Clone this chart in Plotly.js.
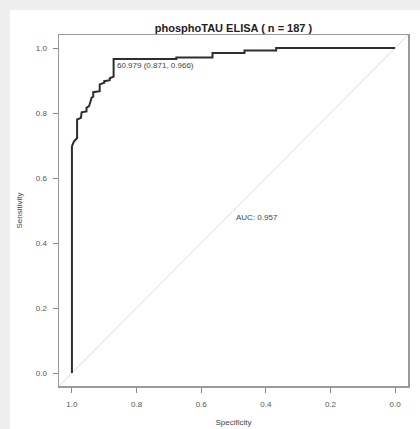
<!DOCTYPE html>
<html>
<head>
<meta charset="utf-8">
<script src="https://cdn.plot.ly/plotly-3.0.1.min.js"></script>
<style>
html,body{margin:0;padding:0;background:#eeeeee;width:420px;height:429px;overflow:hidden;}
#chart{position:absolute;left:10px;top:10px;width:410px;height:419px;background:#fff;}
</style>
</head>
<body>
<div id="chart"></div>
<script>
// ROC curve vertices
const specificity = [1.000, 1.000, 0.994, 0.984, 0.984, 0.972, 0.970, 0.955, 0.955, 0.947, 0.939, 0.934, 0.934, 0.914, 0.914, 0.900, 0.900, 0.883, 0.883, 0.871, 0.871, 0.677, 0.677, 0.565, 0.565, 0.466, 0.466, 0.368, 0.368, 0.000];
const sensitivity = [0.000, 0.697, 0.712, 0.723, 0.780, 0.785, 0.802, 0.805, 0.816, 0.821, 0.847, 0.850, 0.864, 0.867, 0.888, 0.893, 0.898, 0.901, 0.907, 0.912, 0.966, 0.966, 0.971, 0.971, 0.985, 0.985, 0.992, 0.992, 1.000, 1.000];
// chance diagonal
const diagX = [1.04, -0.04];
const diagY = [-0.04, 1.04];
const tickVals = [0, 0.2, 0.4, 0.6, 0.8, 1.0];
const tickText = ["0.0", "0.2", "0.4", "0.6", "0.8", "1.0"];
const titleText = "phosphoTAU ELISA ( n = 187 )";
const aucText = "AUC: 0.957";
const aucPos = [0.5, 0.5];
const thresText = "60.979 (0.871, 0.966)";
const thresPos = [0.871, 0.966];

const font = "Liberation Sans, Arial, sans-serif";

const traces = [
  {x: diagX, y: diagY, mode: "lines", line: {color: "#dcdcdc", width: 1}, hoverinfo: "skip", cliponaxis: true},
  {x: specificity, y: sensitivity, mode: "lines", line: {color: "#2e2e2e", width: 2}, hoverinfo: "skip"}
];

const axisCommon = {
  tickvals: tickVals, ticktext: tickText,
  ticks: "outside", ticklen: 5, tickwidth: 1, tickcolor: "#888",
  showline: true, mirror: true, linecolor: "#9a9a9a", linewidth: 1.5,
  showgrid: false, zeroline: false,
  tickfont: {family: font, size: 8, color: "#555"}
};

const layout = {
  width: 410, height: 419,
  margin: {l: 49, r: 12, t: 25, b: 43},
  paper_bgcolor: "#ffffff", plot_bgcolor: "#ffffff",
  showlegend: false,
  title: {text: "<b>" + titleText + "</b>", font: {family: font, size: 11, color: "#222"},
          x: 0.5, xref: "paper", y: 1 - 18/419, yref: "container", yanchor: "middle"},
  xaxis: Object.assign({}, axisCommon, {
    range: [1.04, -0.04],
    ticklabelstandoff: 5,
    title: {text: "Specificity", font: {family: font, size: 8, color: "#444"}, standoff: 11}
  }),
  yaxis: Object.assign({}, axisCommon, {
    range: [-0.04, 1.04],
    ticklabelstandoff: 4,
    title: {text: "Sensitivity", font: {family: font, size: 8, color: "#444"}, standoff: 12}
  }),
  annotations: [
    {x: aucPos[0], y: aucPos[1], xref: "x", yref: "y", text: aucText, showarrow: false,
     xanchor: "left", yanchor: "top", font: {family: font, size: 8, color: "#444"}},
    {x: thresPos[0], y: thresPos[1], xref: "x", yref: "y", text: thresText, showarrow: false,
     xanchor: "left", yanchor: "top", xshift: 1, yshift: 0, font: {family: font, size: 8, color: "#444"}}
  ]
};

Plotly.newPlot("chart", traces, layout, {staticPlot: true, displayModeBar: false});
</script>
</body>
</html>
